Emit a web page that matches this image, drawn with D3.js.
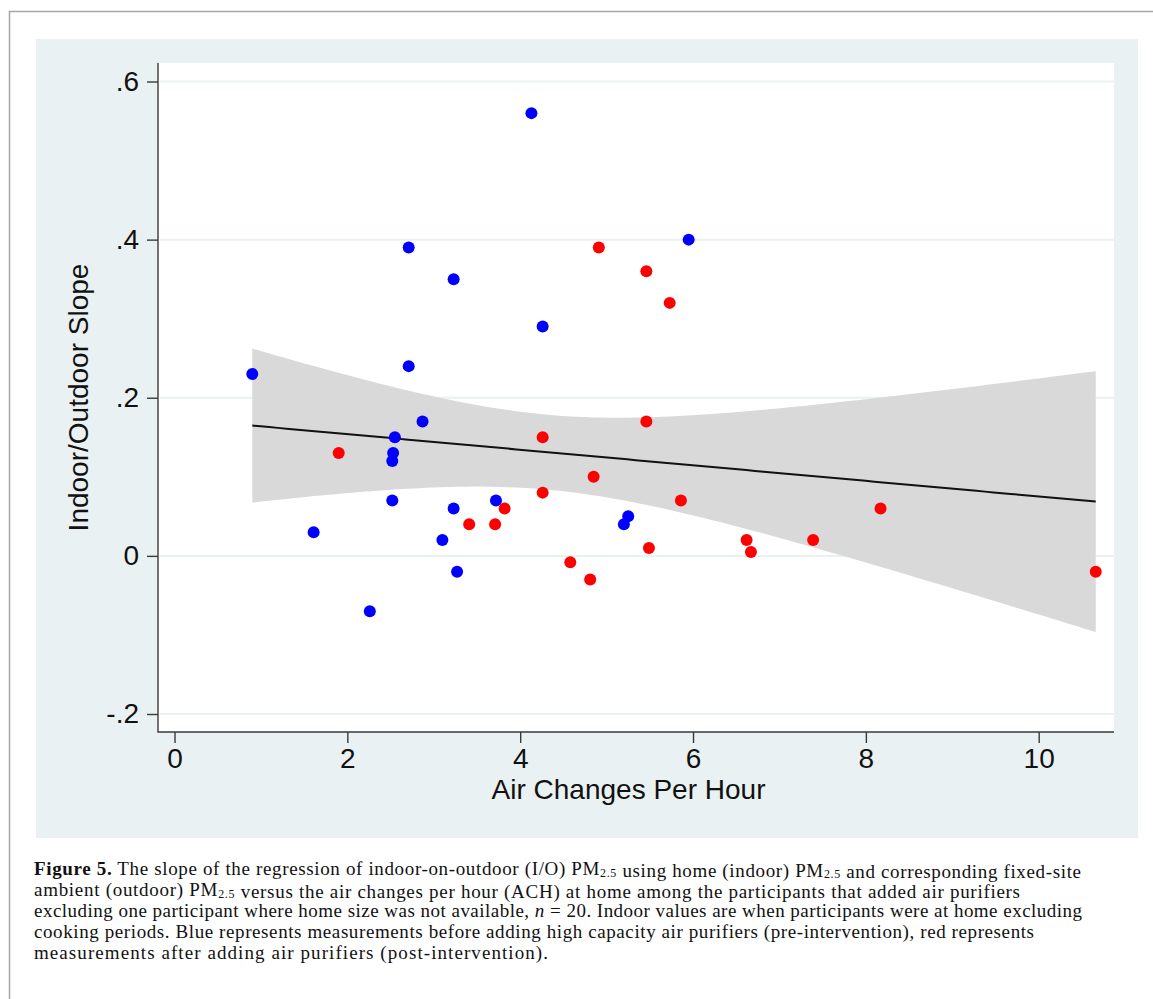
<!DOCTYPE html>
<html>
<head>
<meta charset="utf-8">
<script src="https://cdn.jsdelivr.net/npm/d3@7"></script>
<style>
  body{margin:0;background:#fff}
  svg{display:block}
</style>
</head>
<body>
<svg id="fig" width="1153" height="999"></svg>
<script>
"use strict";

// pre-intervention (blue) points: air changes per hour, I/O slope
const preACH   = [2.71, 3.23, 2.71, 0.90, 2.87, 2.55, 2.53, 2.52, 2.52, 3.23, 3.72, 1.61, 3.10, 3.27, 2.26, 5.95, 4.26, 5.25, 5.20, 4.13]
const preSlope = [0.39, 0.35, 0.24, 0.23, 0.17, 0.15, 0.13, 0.12, 0.07, 0.06, 0.07, 0.03, 0.02, -0.02, -0.07, 0.40, 0.29, 0.05, 0.04, 0.56]
// post-intervention (red) points
const postACH   = [1.90, 3.82, 3.41, 3.71, 4.91, 5.46, 5.73, 5.46, 4.26, 4.85, 4.26, 5.86, 5.49, 6.62, 6.67, 7.39, 4.58, 4.81, 8.17, 10.66]
const postSlope = [0.13, 0.06, 0.04, 0.04, 0.39, 0.36, 0.32, 0.17, 0.15, 0.10, 0.08, 0.07, 0.01, 0.02, 0.005, 0.02, -0.008, -0.03, 0.06, -0.02]

const xTicks = [0, 2, 4, 6, 8, 10]
const yTicks = [-0.2, 0, 0.2, 0.4, 0.6]
const yTickLabels = ["-.2", "0", ".2", ".4", ".6"]
const xTitle = "Air Changes Per Hour"
const yTitle = "Indoor/Outdoor Slope"

// caption, each line a list of [text, style] runs ("b" bold, "s" subscript, "i" italic)
const captionLines = [
  [["Figure 5.", "b"], [" The slope of the regression of indoor-on-outdoor (I/O) PM"], ["2.5", "s"], [" using home (indoor) PM"], ["2.5", "s"], [" and corresponding fixed-site"]],
  [["ambient (outdoor) PM"], ["2.5", "s"], [" versus the air changes per hour (ACH) at home among the participants that added air purifiers"]],
  [["excluding one participant where home size was not available, "], ["n", "i"], [" = 20. Indoor values are when participants were at home excluding"]],
  [["cooking periods. Blue represents measurements before adding high capacity air purifiers (pre-intervention), red represents"]],
  [["measurements after adding air purifiers (post-intervention)."]]
]
// line widths as set in the reference
const captionWidths = [1047, 986, 1048, 1000, 514]

const bgColor = "rgb(233,241,243)"
const axisColor = "#3a3a3a"
const sans = "'Liberation Sans', Arial, sans-serif"

let svg = d3.select("#fig")

// outer frame (top and left rules)
svg.append("path")
  .attr("d", "M9.5,999 V11.5 H1153")
  .attr("fill", "none")
  .attr("stroke", "#a6a6a6")
  .attr("stroke-width", 1.5)

// graph region + plot region
svg.append("rect").attr("x", 36).attr("y", 39).attr("width", 1102).attr("height", 799).attr("fill", bgColor)
svg.append("rect").attr("x", 158).attr("y", 63).attr("width", 956).attr("height", 669).attr("fill", "#fff")

let x = d3.scaleLinear().domain([0, 10]).range([174.5, 1038.7])
let y = d3.scaleLinear().domain([-0.2, 0.6]).range([714, 81.5])

// grid lines
svg.append("g").selectAll("line").data(yTicks).enter()
  .append("line")
  .attr("x1", 160).attr("x2", 1114)
  .attr("y1", d => y(d)).attr("y2", d => y(d))
  .attr("stroke", bgColor)
  .attr("stroke-width", 2)

// linear fit with 95% CI (pooled points, like lfitci)
let allX = preACH.concat(postACH)
let allY = preSlope.concat(postSlope)
let n = allX.length
let mx = d3.mean(allX), my = d3.mean(allY)
let sxx = d3.sum(allX, d => (d - mx) * (d - mx))
let sxy = d3.sum(allX, (d, i) => (d - mx) * (allY[i] - my))
let b = sxy / sxx
let a = my - b * mx
let s2 = d3.sum(allX, (d, i) => Math.pow(allY[i] - (a + b * d), 2)) / (n - 2)
let tcrit = 2.024
let xmin = d3.min(allX), xmax = d3.max(allX)
let grid = d3.range(100).map(i => xmin + (xmax - xmin) * i / 99)
let band = grid.map(v => {
  let fit = a + b * v
  let se = Math.sqrt(s2 * (1 / n + (v - mx) * (v - mx) / sxx))
  return {x: v, fit: fit, lo: fit - tcrit * se, hi: fit + tcrit * se}
})

svg.append("path")
  .datum(band)
  .attr("fill", "#d9d9d9")
  .attr("d", d3.area().x(d => x(d.x)).y0(d => y(d.lo)).y1(d => y(d.hi)))

svg.append("path")
  .datum(band)
  .attr("fill", "none")
  .attr("stroke", "#111")
  .attr("stroke-width", 2)
  .attr("d", d3.line().x(d => x(d.x)).y(d => y(d.fit)))

// points
let pts = svg.append("g")
pts.selectAll("circle.pre").data(d3.zip(preACH, preSlope)).enter()
  .append("circle")
  .attr("class", "pre")
  .attr("cx", d => x(d[0])).attr("cy", d => y(d[1]))
  .attr("r", 6)
  .attr("fill", "#0000ff")
pts.selectAll("circle.post").data(d3.zip(postACH, postSlope)).enter()
  .append("circle")
  .attr("class", "post")
  .attr("cx", d => x(d[0])).attr("cy", d => y(d[1]))
  .attr("r", 6)
  .attr("fill", "#ff0000")

// axes
let yAxis = svg.append("g")
  .attr("transform", "translate(158,0)")
  .call(d3.axisLeft(y).tickValues(yTicks).tickFormat((d, i) => yTickLabels[i]).tickSize(11).tickPadding(8))
let xAxis = svg.append("g")
  .attr("transform", "translate(0,732)")
  .call(d3.axisBottom(x).tickValues(xTicks).tickSize(11).tickPadding(5))
;[yAxis, xAxis].forEach(g => {
  g.select(".domain").remove()
  g.selectAll("line").attr("stroke", axisColor).attr("stroke-width", 1.4)
  g.selectAll("text").attr("font-family", sans).attr("font-size", 28).attr("fill", "#111")
})
svg.append("path")
  .attr("d", "M158,63 V732 H1114")
  .attr("fill", "none")
  .attr("stroke", axisColor)
  .attr("stroke-width", 1.4)

// axis titles
svg.append("text")
  .attr("x", 628.5).attr("y", 799)
  .attr("text-anchor", "middle")
  .attr("font-family", sans).attr("font-size", 28).attr("fill", "#111")
  .text(xTitle)
svg.append("text")
  .attr("transform", "translate(88,397.5) rotate(-90)")
  .attr("text-anchor", "middle")
  .attr("font-family", sans).attr("font-size", 28).attr("fill", "#111")
  .text(yTitle)

// caption
let cap = svg.append("g")
  .attr("font-family", "'Liberation Serif', 'Times New Roman', serif")
  .attr("font-size", 19)
  .attr("fill", "#111")
captionLines.forEach((runs, li) => {
  let t = cap.append("text")
    .attr("x", 34).attr("y", 875 + li * 21)
    .attr("textLength", captionWidths[li])
    .attr("lengthAdjust", "spacing")
  runs.forEach(r => {
    let span = t.append("tspan").text(r[0])
    if(r[1] === "b") span.attr("font-weight", "bold")
    if(r[1] === "i") span.attr("font-style", "italic")
    if(r[1] === "s"){
      span.attr("font-size", 12).attr("dy", 1.5)
      t.append("tspan").attr("dy", -1.5).text("")
    }
  })
})
</script>
</body>
</html>
